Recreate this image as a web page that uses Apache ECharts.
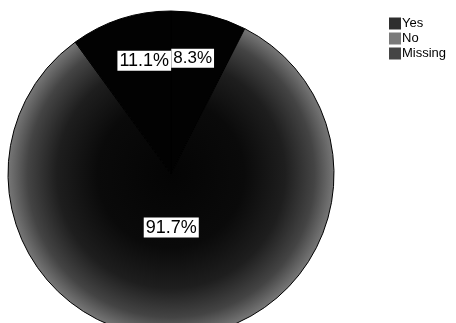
<!DOCTYPE html>
<html>
<head>
<meta charset="utf-8">
<script src="https://cdn.jsdelivr.net/npm/echarts@6/dist/echarts.min.js"></script>
<style>
  html, body { margin: 0; padding: 0; background: #fff; }
  #chart { width: 456px; height: 323px; }
</style>
</head>
<body>
<div id="chart"></div>
<script>
// Categories and their percentages
const categories = ['Yes', 'No', 'Missing'];
const percents = [8.3, 91.7, 11.1];

// Pie geometry (pixels)
const CX = 171, CY = 174, R = 163;
// Label placement: radial distance as a fraction of the radius, plus a horizontal nudge
const labelRadius = [0.73, 0.33, 0.73];
const labelNudgeX = [-6, -4, 10];
const labelFont = [17, 18, 18];

const sliceColors = [
  '#020202',
  {
    type: 'radial', x: CX, y: CY, r: R, global: true,
    colorStops: [
      { offset: 0, color: '#040404' },
      { offset: 0.45, color: '#0a0a0a' },
      { offset: 0.7, color: '#1e1e1e' },
      { offset: 0.88, color: '#444444' },
      { offset: 1, color: '#777777' }
    ]
  },
  '#020202'
];
const legendColors = ['#2e2e2e', '#7a7a7a', '#454545'];

const chart = echarts.init(document.getElementById('chart'), null, { renderer: 'canvas' });

chart.setOption({
  backgroundColor: '#ffffff',
  animation: false,
  legend: {
    orient: 'vertical',
    left: 384,
    top: 12,
    icon: 'rect',
    itemWidth: 12,
    itemHeight: 12,
    itemGap: 2,
    itemStyle: { borderWidth: 0 },
    textStyle: { fontFamily: 'Liberation Sans, Arial, sans-serif', fontSize: 13, color: '#000', padding: [0, 0, 0, -4] },
    data: categories.map((c, i) => ({ name: c, itemStyle: { color: legendColors[i], borderWidth: 0 } }))
  },
  series: [{
    type: 'pie',
    center: [CX, CY],
    radius: R,
    startAngle: 90,
    clockwise: true,
    avoidLabelOverlap: false,
    silent: true,
    itemStyle: { borderColor: '#000', borderWidth: 1 },
    label: {
      show: true,
      position: 'inside',
      formatter: p => p.value.toFixed(1) + '%',
      fontFamily: 'Liberation Sans, Arial, sans-serif',
      color: '#000',
      backgroundColor: '#fff',
      padding: [2, 2, 0, 2]
    },
    labelLine: { show: false },
    labelLayout: function (params) {
      const i = params.dataIndex;
      const lr = params.labelRect;
      const lx = lr.x + lr.width / 2, ly = lr.y + lr.height / 2;
      const vx = lx - CX, vy = ly - CY;
      const d = Math.hypot(vx, vy) || 1;
      const t = labelRadius[i] * R;
      return { dx: vx / d * (t - d) + labelNudgeX[i], dy: vy / d * (t - d) };
    },
    data: categories.map((c, i) => ({
      name: c,
      value: percents[i],
      itemStyle: { color: sliceColors[i] },
      label: { fontSize: labelFont[i] }
    }))
  }]
});
</script>
</body>
</html>
